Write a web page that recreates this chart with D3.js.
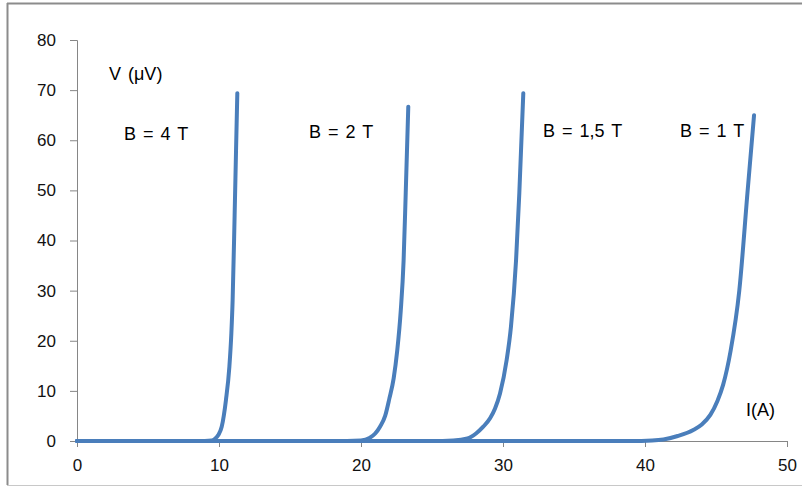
<!DOCTYPE html>
<html>
<head>
<meta charset="utf-8">
<script src="https://cdn.jsdelivr.net/npm/d3@7"></script>
<style>
  body { margin: 0; background: #fff; }
  svg { display: block; font-family: "Liberation Sans", Arial, sans-serif; }
</style>
</head>
<body>
<div id="chart"></div>
<script>
// I (A) and V (µV), one pair of arrays per field
const i4T  = [0, 9.0, 9.5, 9.7, 9.95, 10.19, 10.49, 10.73, 10.87, 10.96, 11.1, 11.2, 11.29];
const v4T  = [0, 0,   0.1, 0.4, 1.2,  2.85,  8.2,   14.8,  21.5,  28.1,  45,   58,   69.4];
const i2T  = [0, 19.0, 20.0, 20.6, 21.0, 21.34, 21.7, 22.0, 22.3, 22.55, 22.8, 23.0, 23.15, 23.33];
const v2T  = [0, 0,    0.1,  0.6,  1.5,  2.85,  5,    8.5,  12.5, 18,    26,   36,   49.5,  66.7];
const i15T = [0, 25.0, 26.5, 27.5, 28.1, 28.61, 29.1, 29.44, 29.79, 30.26, 30.56, 30.92, 31.15, 31.43];
const v15T = [0, 0,    0.1,  0.5,  1.5,  2.85,  4.6,  6.5,   9.5,   16.2,  22.8,  36.1,  49.5,  69.4];
const i1T  = [0, 39.0, 40.5, 41.3, 42.3, 43.4, 44.0, 44.6, 45.1, 45.5, 46.03, 46.64, 47.23, 47.68];
const v1T  = [0, 0,    0.1,  0.3,  1.0,  2.2,  3.3,  5.2,  8.0,  11.2, 18.0,  30,    50,    65.0];

const series = [
  { name: 'B = 4 T',   I: i4T,  V: v4T },
  { name: 'B = 2 T',   I: i2T,  V: v2T },
  { name: 'B = 1,5 T', I: i15T, V: v15T },
  { name: 'B = 1 T',   I: i1T,  V: v1T }
];

const xTicks = [0, 10, 20, 30, 40, 50];
const yTicks = [0, 10, 20, 30, 40, 50, 60, 70, 80];

const width = 802, height = 486;
const margin = { top: 40, right: 15, bottom: 45, left: 77 };

const svg = d3.select('#chart').append('svg')
  .attr('width', width).attr('height', height);

// chart frame: top and left darker, bottom light, no right edge
svg.append('line')
  .attr('x1', 7).attr('x2', width).attr('y1', 3.5).attr('y2', 3.5)
  .attr('stroke', '#8c8c8c').attr('stroke-width', 2);
svg.append('line')
  .attr('x1', 7.5).attr('x2', 7.5).attr('y1', 3).attr('y2', 485)
  .attr('stroke', '#8c8c8c').attr('stroke-width', 2);
svg.append('line')
  .attr('x1', 7).attr('x2', width).attr('y1', 485.5).attr('y2', 485.5)
  .attr('stroke', '#c8c8c8').attr('stroke-width', 1);

const x = d3.scaleLinear().domain([0, 50]).range([margin.left, 787]);
const y = d3.scaleLinear().domain([0, 80]).range([441, margin.top]);

function xAxis(g) {
  g.attr('transform', `translate(0,${y(0)})`)
    .call(d3.axisBottom(x).tickValues(xTicks).tickSize(6).tickPadding(12))
    .attr('font-size', '17px');
  g.select('.domain').attr('stroke', '#868686');
  g.selectAll('.tick line').attr('stroke', '#868686');
  g.selectAll('.tick text').attr('fill', '#111').attr('font-family', '"Liberation Sans", Arial, sans-serif');
}

function yAxis(g) {
  g.attr('transform', `translate(${x(0)},0)`)
    .call(d3.axisLeft(y).tickValues(yTicks).tickSize(7).tickPadding(14))
    .attr('font-size', '17px');
  g.select('.domain').attr('stroke', '#868686');
  g.selectAll('.tick line').attr('stroke', '#868686');
  g.selectAll('.tick text').attr('fill', '#111').attr('font-family', '"Liberation Sans", Arial, sans-serif');
}

svg.append('g').call(xAxis);
svg.append('g').call(yAxis);

const line = d3.line()
  .x(d => x(d[0]))
  .y(d => y(d[1]))
  .curve(d3.curveMonotoneX);

svg.append('g')
  .selectAll('path')
  .data(series)
  .join('path')
    .attr('d', s => line(s.I.map((v, k) => [v, s.V[k]])))
    .attr('fill', 'none')
    .attr('stroke', '#4a7ebb')
    .attr('stroke-width', 4)
    .attr('stroke-linecap', 'round')
    .attr('stroke-linejoin', 'round');

// text labels
const labels = [
  { text: 'V (\u03bcV)', x: 109, y: 80 },
  { text: 'B = 4 T',     x: 124, y: 140 },
  { text: 'B = 2 T',     x: 309, y: 138 },
  { text: 'B = 1,5 T',   x: 543, y: 137 },
  { text: 'B = 1 T',     x: 680, y: 137 },
  { text: 'I(A)',        x: 746, y: 416 }
];

svg.append('g')
  .selectAll('text')
  .data(labels)
  .join('text')
    .attr('x', d => d.x)
    .attr('y', d => d.y)
    .attr('font-size', '18px')
    .attr('word-spacing', '2px')
    .attr('fill', '#000')
    .text(d => d.text);
</script>
</body>
</html>
